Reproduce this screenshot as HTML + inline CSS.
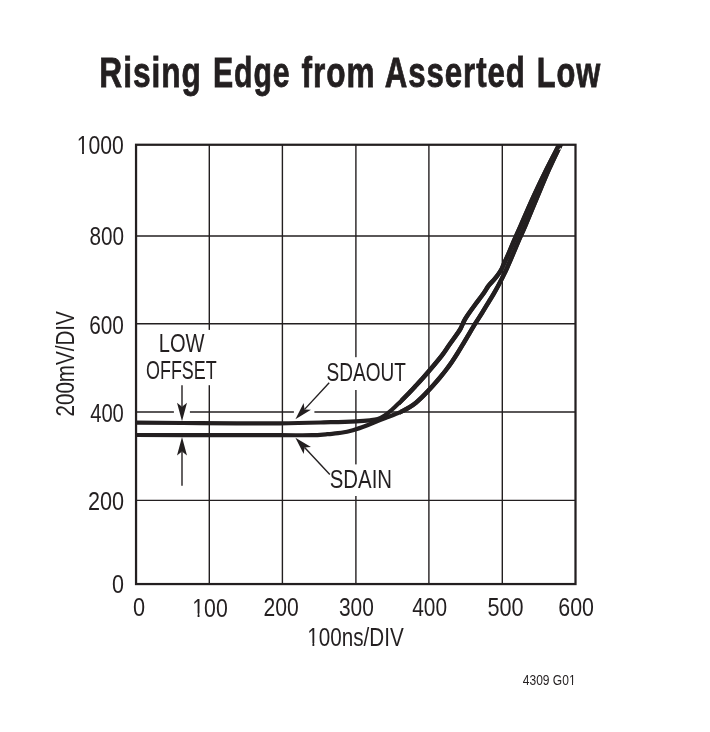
<!DOCTYPE html>
<html lang="en"><head><meta charset="utf-8"><title>Rising Edge from Asserted Low</title>
<style>html,body{margin:0;padding:0;background:#fff}svg{display:block}text{font-family:"Liberation Sans",sans-serif}</style></head><body>
<svg width="710" height="732" viewBox="0 0 710 732">
<rect width="710" height="732" fill="#fff"/>
<defs><clipPath id="plot"><rect x="136.05" y="144.76" width="439.45" height="439.29"/></clipPath><clipPath id="plotr"><rect x="400" y="144.76" width="175.50" height="439.29"/></clipPath></defs>
<g stroke="#231f20" stroke-width="1.4" fill="none"><line x1="209.30" y1="144.76" x2="209.30" y2="584.05"/><line x1="282.40" y1="144.76" x2="282.40" y2="584.05"/><line x1="355.90" y1="144.76" x2="355.90" y2="584.05"/><line x1="428.90" y1="144.76" x2="428.90" y2="584.05"/><line x1="502.30" y1="144.76" x2="502.30" y2="584.05"/><line x1="136.05" y1="236.05" x2="575.50" y2="236.05"/><line x1="136.05" y1="323.70" x2="575.50" y2="323.70"/><line x1="136.05" y1="412.00" x2="575.50" y2="412.00"/><line x1="136.05" y1="500.40" x2="575.50" y2="500.40"/></g>
<rect x="140.00" y="329.90" width="80.00" height="55.30" fill="#fff"/>
<rect x="173.90" y="405.00" width="16.00" height="12.00" fill="#fff"/>
<rect x="325.00" y="357.20" width="84.00" height="32.80" fill="#fff"/>
<rect x="328.00" y="464.40" width="66.00" height="31.60" fill="#fff"/>
<rect x="293.90" y="405.00" width="20.50" height="12.00" fill="#fff"/>
<g clip-path="url(#plot)" stroke="#231f20" stroke-width="4.2" fill="none" stroke-linejoin="round">
<path id="cin" d="M136.05 435.00 C146.71 435.02 176.01 435.07 200.00 435.10 C223.99 435.13 261.33 435.18 280.00 435.20 C298.67 435.22 304.33 435.35 312.00 435.20 C319.67 435.05 322.67 434.51 326.00 434.29 C329.33 434.06 330.00 434.02 332.00 433.84 C334.00 433.66 336.00 433.46 338.00 433.20 C340.00 432.93 342.00 432.63 344.00 432.26 C346.00 431.88 348.00 431.44 350.00 430.93 C352.00 430.42 354.00 429.84 356.00 429.21 C358.00 428.58 360.00 427.89 362.00 427.18 C364.00 426.46 366.00 425.70 368.00 424.93 C370.00 424.15 372.00 423.35 374.00 422.55 C376.00 421.75 378.00 420.93 380.00 420.14 C382.00 419.34 384.00 418.56 386.00 417.79 C388.00 417.02 390.00 416.30 392.00 415.52 C394.00 414.74 396.00 413.99 398.00 413.13 C400.00 412.26 402.00 411.38 404.00 410.35 C406.00 409.32 408.00 408.22 410.00 406.94 C412.00 405.65 414.00 404.24 416.00 402.63 C418.00 401.01 420.00 399.17 422.00 397.23 C424.00 395.30 426.00 393.15 428.00 391.02 C430.00 388.89 432.00 386.69 434.00 384.43 C436.00 382.18 438.00 379.91 440.00 377.50 C442.00 375.10 444.00 372.64 446.00 370.01 C448.00 367.37 450.00 364.64 452.00 361.71 C454.00 358.78 456.00 355.65 458.00 352.44 C460.00 349.24 462.00 345.84 464.00 342.48 C466.00 339.13 468.00 335.66 470.00 332.32 C472.00 328.98 474.00 325.64 476.00 322.43 C478.00 319.21 479.83 316.50 482.00 313.01 C484.17 309.53 487.08 304.65 489.00 301.50 C490.92 298.35 492.03 296.60 493.50 294.10 C494.97 291.60 496.45 288.98 497.80 286.50 C499.15 284.02 500.43 281.50 501.60 279.20 C502.77 276.90 503.87 274.63 504.80 272.70 C505.73 270.77 505.80 270.78 507.20 267.60 C508.60 264.43 511.24 258.25 513.20 253.65 C515.16 249.05 516.96 244.59 518.95 240.00 C520.94 235.41 522.12 233.20 525.15 226.10 C528.17 219.00 533.08 206.97 537.10 197.40 C541.12 187.83 545.52 177.18 549.30 168.70 C553.08 160.22 557.10 152.12 559.80 146.50 C562.50 140.88 564.55 136.92 565.50 135.00"/>
<path id="cout" d="M136.05 422.60 C146.71 422.68 176.01 422.97 200.00 423.10 C223.99 423.23 258.22 423.55 280.00 423.40 C301.78 423.25 318.03 422.55 330.70 422.20 C343.37 421.85 349.47 421.62 356.00 421.30 C362.53 420.98 366.27 420.68 369.90 420.30 C373.53 419.92 375.33 419.82 377.80 419.00 C380.27 418.18 382.40 416.90 384.70 415.40 C387.00 413.90 389.15 412.12 391.60 410.00 C394.05 407.88 396.78 405.23 399.40 402.70 C402.02 400.17 404.67 397.52 407.30 394.80 C409.93 392.08 412.90 388.87 415.20 386.40 C417.50 383.93 418.77 382.60 421.10 380.00 C423.43 377.40 425.75 374.87 429.20 370.80 C432.65 366.73 438.47 359.90 441.80 355.60 C445.13 351.30 446.70 348.53 449.20 345.00 C451.70 341.47 454.90 337.13 456.80 334.40 C458.70 331.67 459.35 330.90 460.60 328.60 C461.85 326.30 463.08 322.90 464.30 320.60 C465.52 318.30 466.13 317.40 467.90 314.80 C469.67 312.20 472.30 308.55 474.90 305.00 C477.50 301.45 481.22 296.72 483.50 293.50 C485.78 290.28 486.82 288.03 488.60 285.70 C490.38 283.37 492.52 281.48 494.20 279.50 C495.88 277.52 497.48 275.50 498.70 273.80 C499.92 272.10 500.68 270.85 501.50 269.30 C502.32 267.75 502.43 267.11 503.60 264.50 C504.78 261.89 506.77 257.73 508.55 253.65 C510.33 249.57 512.31 244.59 514.30 240.00 C516.29 235.41 517.37 233.20 520.50 226.10 C523.63 219.00 528.72 206.97 533.10 197.40 C537.48 187.83 542.62 177.18 546.80 168.70 C550.98 160.22 555.33 152.12 558.20 146.50 C561.07 140.88 563.03 136.92 564.00 135.00"/>
</g>
<g clip-path="url(#plotr)" stroke="#231f20" stroke-width="4.5" fill="none" stroke-linejoin="round"><use href="#cin"/><use href="#cout"/></g>
<path d="M558.7 149.8 L561.0 147.5 L560.8 149.6 Z" fill="#fff"/>
<rect x="136.05" y="144.76" width="439.45" height="439.29" fill="none" stroke="#231f20" stroke-width="2.25"/>
<line x1="182.00" y1="385.20" x2="182.00" y2="406.80" stroke="#231f20" stroke-width="1.40"/><path d="M182.00 421.30 L177.00 402.80 L182.00 406.80 L187.00 402.80 Z" fill="#231f20"/>
<line x1="182.00" y1="485.80" x2="182.00" y2="451.40" stroke="#231f20" stroke-width="1.40"/><path d="M182.00 436.90 L187.00 455.40 L182.00 451.40 L177.00 455.40 Z" fill="#231f20"/>
<line x1="329.20" y1="382.80" x2="304.57" y2="409.39" stroke="#231f20" stroke-width="1.40"/><path d="M295.40 419.30 L303.62 403.06 L304.57 409.39 L310.96 409.86 Z" fill="#231f20"/>
<line x1="329.80" y1="474.60" x2="304.61" y2="447.57" stroke="#231f20" stroke-width="1.40"/><path d="M295.40 437.70 L310.99 447.09 L304.61 447.57 L303.68 453.91 Z" fill="#231f20"/>
<text transform="translate(99.30 87.45) scale(0.7441 1)" font-size="42.60" font-weight="bold" fill="#231f20" stroke="#231f20" stroke-width="0.80" stroke-linejoin="miter" letter-spacing="1.3">Rising</text>
<text transform="translate(213.00 87.45) scale(0.7094 1)" font-size="42.60" font-weight="bold" fill="#231f20" stroke="#231f20" stroke-width="0.80" stroke-linejoin="miter" letter-spacing="1.3">Edge</text>
<text transform="translate(301.50 87.45) scale(0.7420 1)" font-size="42.60" font-weight="bold" fill="#231f20" stroke="#231f20" stroke-width="0.80" stroke-linejoin="miter" letter-spacing="1.3">from</text>
<text transform="translate(384.75 87.45) scale(0.7322 1)" font-size="42.60" font-weight="bold" fill="#231f20" stroke="#231f20" stroke-width="0.80" stroke-linejoin="miter" letter-spacing="1.3">Asserted</text>
<text transform="translate(536.75 87.45) scale(0.7243 1)" font-size="42.60" font-weight="bold" fill="#231f20" stroke="#231f20" stroke-width="0.80" stroke-linejoin="miter" letter-spacing="1.3">Low</text>
<text transform="translate(76.75 153.85) scale(0.8393 1)" font-size="25.20" font-weight="normal" fill="#231f20">1000</text>
<text transform="translate(89.40 245.05) scale(0.8228 1)" font-size="25.20" font-weight="normal" fill="#231f20">800</text>
<text transform="translate(89.15 334.00) scale(0.8258 1)" font-size="25.20" font-weight="normal" fill="#231f20">600</text>
<text transform="translate(90.15 421.50) scale(0.8020 1)" font-size="25.20" font-weight="normal" fill="#231f20">400</text>
<text transform="translate(87.90 510.35) scale(0.8579 1)" font-size="25.20" font-weight="normal" fill="#231f20">200</text>
<text transform="translate(112.00 593.40) scale(0.8537 1)" font-size="25.20" font-weight="normal" fill="#231f20">0</text>
<text transform="translate(133.00 615.60) scale(0.8625 1)" font-size="25.20" font-weight="normal" fill="#231f20">0</text>
<text transform="translate(192.25 616.60) scale(0.8438 1)" font-size="25.20" font-weight="normal" fill="#231f20">100</text>
<text transform="translate(263.50 615.60) scale(0.8373 1)" font-size="25.20" font-weight="normal" fill="#231f20">200</text>
<text transform="translate(339.00 615.60) scale(0.8296 1)" font-size="25.20" font-weight="normal" fill="#231f20">300</text>
<text transform="translate(412.25 615.60) scale(0.8280 1)" font-size="25.20" font-weight="normal" fill="#231f20">400</text>
<text transform="translate(487.50 615.60) scale(0.8595 1)" font-size="25.20" font-weight="normal" fill="#231f20">500</text>
<text transform="translate(558.25 615.60) scale(0.8487 1)" font-size="25.20" font-weight="normal" fill="#231f20">600</text>
<text transform="translate(307.25 646.45) scale(0.8200 1)" font-size="25.20" font-weight="normal" fill="#231f20">100ns/DIV</text>
<text transform="translate(74.35 416.50) rotate(-90) scale(0.8176 1)" font-size="25.20" font-weight="normal" fill="#231f20">200mV/DIV</text>
<text transform="translate(522.75 685.00) scale(0.8288 1)" font-size="14.53" font-weight="normal" fill="#231f20">4309 G01</text>
<text transform="translate(158.75 351.70) scale(0.7975 1)" font-size="25.20" font-weight="normal" fill="#231f20">LOW</text>
<text transform="translate(146.00 379.20) scale(0.7124 1)" font-size="25.20" font-weight="normal" fill="#231f20">OFFSET</text>
<text transform="translate(326.50 380.95) scale(0.7559 1)" font-size="25.20" font-weight="normal" fill="#231f20">SDAOUT</text>
<text transform="translate(329.75 487.50) scale(0.8089 1)" font-size="25.20" font-weight="normal" fill="#231f20">SDAIN</text>
<g transform="translate(76.75 153.85) scale(0.8393 1)" fill="#fff"><rect x="0.492" y="-3.322" width="5.845" height="4.061"/><rect x="8.564" y="-3.322" width="6.017" height="4.061"/></g>
<g transform="translate(192.25 616.60) scale(0.8438 1)" fill="#fff"><rect x="0.492" y="-3.322" width="5.845" height="4.061"/><rect x="8.564" y="-3.322" width="6.017" height="4.061"/></g>
<g transform="translate(307.25 646.45) scale(0.8200 1)" fill="#fff"><rect x="0.492" y="-3.322" width="5.845" height="4.061"/><rect x="8.564" y="-3.322" width="6.017" height="4.061"/></g>
<g transform="translate(522.75 685.00) scale(0.8288 1)" fill="#fff"><rect x="56.027" y="-1.916" width="3.370" height="2.341"/><rect x="60.681" y="-1.916" width="5.704" height="2.341"/></g>
</svg></body></html>
